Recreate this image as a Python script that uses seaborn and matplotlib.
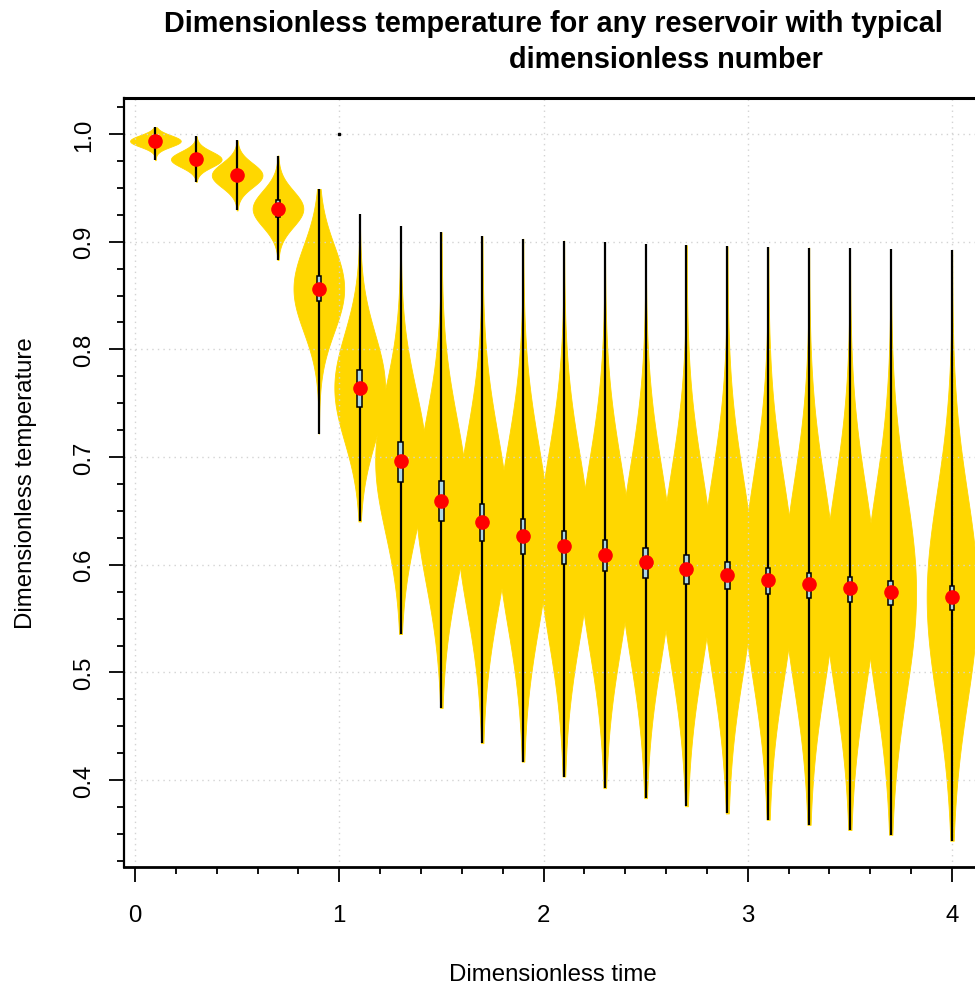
import numpy as np
import pandas as pd
import matplotlib
matplotlib.use("Agg")
import matplotlib.pyplot as plt
import seaborn as sns
from matplotlib.ticker import MultipleLocator

# ---- data ----
times = [0.1, 0.3, 0.5, 0.7, 0.9, 1.1, 1.3, 1.5, 1.7, 1.9,
         2.1, 2.3, 2.5, 2.7, 2.9, 3.1, 3.3, 3.5, 3.7, 4.0]
t_min = [0.9756, 0.9556, 0.9290, 0.8830, 0.7218, 0.6402, 0.5357, 0.4670, 0.4344, 0.4172,
         0.4034, 0.3926, 0.3833, 0.3758, 0.3691, 0.3633, 0.3585, 0.3537, 0.3493, 0.3438]
t_q1 = [0.9915, 0.9735, 0.9570, 0.9230, 0.8450, 0.7466, 0.6770, 0.6405, 0.6217, 0.6096,
        0.6003, 0.5938, 0.5875, 0.5818, 0.5772, 0.5728, 0.5688, 0.5654, 0.5625, 0.5581]
t_med = [0.9935, 0.9765, 0.9617, 0.9306, 0.8564, 0.7645, 0.6965, 0.6590, 0.6395, 0.6268,
         0.6172, 0.6094, 0.6024, 0.5964, 0.5907, 0.5860, 0.5820, 0.5783, 0.5746, 0.5699]
t_q3 = [0.9955, 0.9795, 0.9665, 0.9383, 0.8680, 0.7809, 0.7144, 0.6777, 0.6560, 0.6423,
        0.6313, 0.6228, 0.6156, 0.6088, 0.6028, 0.5972, 0.5926, 0.5882, 0.5849, 0.5801]
t_max = [1.0062, 0.9978, 0.9941, 0.9800, 0.9490, 0.9254, 0.9145, 0.9088, 0.9052, 0.9027,
         0.9010, 0.8995, 0.8979, 0.8968, 0.8957, 0.8950, 0.8945, 0.8938, 0.8930, 0.8919]
stray_x = [1.0]
stray_y = [1.0]

title_1 = "Dimensionless temperature for any reservoir with typical"
title_2 = "dimensionless number"
x_label = "Dimensionless time"
y_label = "Dimensionless temperature"

# long-form table: each violin = its two extremes plus a heavy core at the median
core_weight = 240
rec_t, rec_v = [], []
for t, a, c, e in zip(times, t_min, t_med, t_max):
    vals = [a] + [c] * core_weight + [e]
    rec_t += [t] * len(vals)
    rec_v += vals
df = pd.DataFrame({"time": rec_t, "temp": rec_v})

sns.set_theme(style="white")
plt.rcParams["font.family"] = ["Liberation Sans", "DejaVu Sans"]

W, H = 975, 987
fig = plt.figure(figsize=(W / 100, H / 100), dpi=100)
ax_l, ax_r, ax_t, ax_b = 124, 982, 99, 868
ax = fig.add_axes([ax_l / W, 1 - ax_b / H, (ax_r - ax_l) / W, (ax_b - ax_t) / H])

gold = "#FFD700"
sns.violinplot(data=df, x="time", y="temp", native_scale=True, cut=0,
               bw_method=3.8, density_norm="width", width=1.24, inner=None,
               gridsize=200, color=gold, saturation=1, linewidth=0.6,
               linecolor=gold, ax=ax)
for c in ax.collections:
    c.set_zorder(1)

ax.vlines(times, t_min, t_max, color="black", lw=1.6, zorder=3)
ax.bar(times, np.subtract(t_q3, t_q1), bottom=t_q1, width=0.022,
       color="#ADD8E6", edgecolor="black", linewidth=1.1, zorder=4)
ax.plot(times, t_med, "o", color="red", mec="red", ms=9.5, zorder=5, ls="none")
ax.plot(stray_x, stray_y, "s", color="black", ms=1.6, zorder=5, ls="none")

x_per = 204.25
x0 = 135
ax.set_xlim((ax_l - x0) / x_per, (ax_r - x0) / x_per)
ax.set_ylim(0.3194, 1.0334)

ax.xaxis.set_major_locator(MultipleLocator(1))
ax.xaxis.set_minor_locator(MultipleLocator(0.2))
ax.yaxis.set_major_locator(MultipleLocator(0.1))
ax.yaxis.set_minor_locator(MultipleLocator(0.025))
ax.set_xticklabels([f"{v:g}" for v in ax.get_xticks()])

ax.grid(True, which="major", color="#D3D3D3", linestyle=(0, (1, 3)), lw=1.0)
ax.set_axisbelow("line")

ax.tick_params(axis="both", which="major", direction="out", length=11, width=1.3,
               color="black", labelsize=17.3, labelcolor="black", bottom=True, left=True)
ax.tick_params(axis="both", which="minor", direction="out", length=5, width=1.3,
               color="black", bottom=True, left=True)
ax.tick_params(axis="x", which="major", pad=16)
ax.tick_params(axis="y", which="major", pad=10)
for lab in ax.get_yticklabels():
    lab.set_rotation(90)
    lab.set_va("center")

for side in ["left", "top", "bottom", "right"]:
    ax.spines[side].set_visible(True)
    ax.spines[side].set_color("black")
ax.spines["left"].set_linewidth(1.6)
ax.spines["top"].set_linewidth(2.2)
ax.spines["bottom"].set_linewidth(2.0)
ax.spines["right"].set_linewidth(2.0)

ax.set_xlabel(x_label, fontsize=17.3, labelpad=26, color="black")
ax.set_ylabel(y_label, fontsize=17.3, labelpad=26, color="black")

fig.text(553 / W, 1 - 32 / H, title_1, ha="center", va="baseline",
         fontsize=20.8, fontweight="bold", color="black")
fig.text(666 / W, 1 - 68 / H, title_2, ha="center", va="baseline",
         fontsize=20.8, fontweight="bold", color="black")

fig.savefig("out.png", dpi=100)
